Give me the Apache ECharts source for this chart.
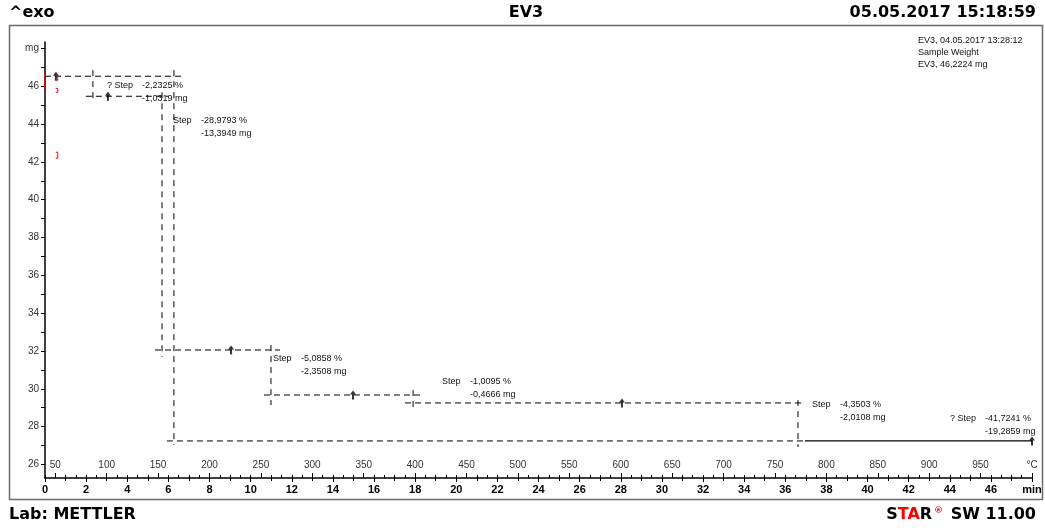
<!DOCTYPE html>
<html>
<head>
<meta charset="utf-8">
<title>EV3</title>
<style>
  html, body { margin: 0; padding: 0; background: #fff; }
  #chart { width: 1045px; height: 528px; }
</style>
<script src="https://cdn.jsdelivr.net/npm/echarts@6/dist/echarts.min.js"></script>
</head>
<body>
<div id="chart"></div>
<script>
// axis ticks
var massTicks = [26, 28, 30, 32, 34, 36, 38, 40, 42, 44, 46, 48];
var massMinor = [26,27,28,29,30,31,32,33,34,35,36,37,38,39,40,41,42,43,44,45,46,47,48];
var tempTicks = [50,100,150,200,250,300,350,400,450,500,550,600,650,700,750,800,850,900,950,1000];

// step evaluation lines: [t start (min), t end (min), mass (mg)]
var levelLines = [
  [0, 6.66, 46.53],
  [1.99, 6.0, 45.47],
  [5.35, 11.43, 32.05],
  [10.65, 18.24, 29.67],
  [17.51, 36.96, 29.25],
  [5.93, 36.96, 27.24]
];
// vertical lines: [t (min), mass top, mass bottom]
var dropLines = [
  [2.33, 46.85, 45.26],
  [5.69, 45.68, 31.68],
  [6.27, 46.85, 27.03],
  [10.99, 32.31, 29.14],
  [17.90, 29.93, 28.88],
  [36.62, 29.40, 26.92]
];
// visible part of the curve
var curveTail = [[36.96, 27.24], [48, 27.24]];
// evaluation points
var stepMarks = [[0.53, 46.58], [3.06, 45.52], [9.05, 32.10], [14.98, 29.72], [28.06, 29.30], [48, 27.29]];
// red limit brackets: [t, mass top, mass bottom, cap direction]
var limitMarks = [
  [-0.04, 46.58, 45.84, 1],
  [0.62, 46.58, 46.32, -1],
  [0.62, 45.89, 45.68, -1],
  [0.62, 42.51, 42.19, -1]
];
// step results
var stepNames = ['? Step', 'Step', 'Step', 'Step', 'Step', '? Step'];
var stepPercent = ['-2,2325 %', '-28,9793 %', '-5,0858 %', '-1,0095 %', '-4,3503 %', '-41,7241 %'];
var stepMass = ['-1,0319 mg', '-13,3949 mg', '-2,3508 mg', '-0,4666 mg', '-2,0108 mg', '-19,2859 mg'];
var infoLines = ['EV3, 04.05.2017 13:28:12', 'Sample Weight', 'EV3, 46,2224 mg'];

var series = [];
levelLines.forEach(function (s) {
  series.push({
    type: 'line', xAxisIndex: 0, symbol: 'none', silent: true,
    lineStyle: { color: '#000', width: 1, type: [6, 4] },
    data: [[s[0], s[2]], [s[1], s[2]]]
  });
});
dropLines.forEach(function (s) {
  series.push({
    type: 'line', xAxisIndex: 0, symbol: 'none', silent: true,
    lineStyle: { color: '#000', width: 1, type: [6, 5] },
    data: [[s[0], s[1]], [s[0], s[2]]]
  });
});
limitMarks.forEach(function (s) {
  var c = s[0] + 0.1 * s[3];
  series.push({
    type: 'line', xAxisIndex: 0, symbol: 'none', silent: true, clip: false, z: 5,
    lineStyle: { color: '#ff0000', width: 1 },
    data: [[c, s[1]], [s[0], s[1]], [s[0], s[2]], [c, s[2]]]
  });
});
series.push({
  type: 'line', xAxisIndex: 0, symbol: 'none', silent: true,
  lineStyle: { color: '#000', width: 1.3 },
  data: curveTail
});
series.push({
  type: 'scatter', xAxisIndex: 0, silent: true,
  symbol: 'path://M0,0 L3,4 L1,4 L1,9 L-1,9 L-1,4 L-3,4 Z',
  symbolSize: [6, 9], symbolOffset: [0, 1],
  itemStyle: { color: '#000' },
  data: stepMarks
});

var smallFont = '9px "Liberation Sans", Arial, sans-serif';
var bigFont = 'bold 16px "DejaVu Sans", sans-serif';
// where each result block sits (px)
var textPos = [[107, 86], [173, 121], [273, 359], [442, 382], [812, 405], [950, 419]];
var graphics = [
  { type: 'rect', shape: { x: 9.5, y: 25.5, width: 1033, height: 474 }, style: { fill: 'none', stroke: '#6a6a6a', lineWidth: 1.5 } },
  { type: 'text', x: 9, y: 13, style: { text: '^exo', font: bigFont, fill: '#000', textVerticalAlign: 'middle' } },
  { type: 'text', x: 526, y: 13, style: { text: 'EV3', font: bigFont, fill: '#000', textAlign: 'center', textVerticalAlign: 'middle' } },
  { type: 'text', x: 1036, y: 13, style: { text: '05.05.2017 15:18:59', font: bigFont, fill: '#000', textAlign: 'right', textVerticalAlign: 'middle' } },
  { type: 'text', x: 9, y: 515, style: { text: 'Lab: METTLER', font: bigFont, fill: '#000', textVerticalAlign: 'middle' } },
  {
    type: 'text', x: 1036, y: 515,
    style: {
      text: '{k|S}{r|TA}{k|R}{s|®}{k| SW 11.00}',
      textAlign: 'right', textVerticalAlign: 'middle',
      rich: {
        k: { font: bigFont, fill: '#000' },
        r: { font: bigFont, fill: '#ff0000' },
        s: { font: 'bold 9px "DejaVu Sans", sans-serif', fill: '#ff0000', verticalAlign: 'top', padding: [0, 2, 8, 2] }
      }
    }
  }
];
infoLines.forEach(function (t, i) {
  graphics.push({ type: 'text', x: 918, y: 41 + i * 12, style: { text: t, font: smallFont, fill: '#111', textVerticalAlign: 'middle' } });
});
textPos.forEach(function (p, i) {
  var gap = stepNames[i].length > 4 ? 35 : 28;
  graphics.push({ type: 'text', x: p[0], y: p[1], style: { text: stepNames[i], font: smallFont, fill: '#111', textVerticalAlign: 'middle' } });
  graphics.push({ type: 'text', x: p[0] + gap, y: p[1], style: { text: stepPercent[i], font: smallFont, fill: '#111', textVerticalAlign: 'middle' } });
  graphics.push({ type: 'text', x: p[0] + gap, y: p[1] + 12.5, style: { text: stepMass[i], font: smallFont, fill: '#111', textVerticalAlign: 'middle' } });
});

var myChart = echarts.init(document.getElementById('chart'));
myChart.setOption({
  animation: false,
  textStyle: { fontFamily: '"Liberation Sans", Arial, sans-serif' },
  grid: { left: 45, right: 13, top: 42, bottom: 50, outerBoundsMode: 'none' },
  xAxis: [
    {
      type: 'value', min: 0, max: 48, interval: 2, position: 'bottom',
      axisLine: { lineStyle: { color: '#000', width: 1.5 } },
      axisTick: { length: 4, lineStyle: { color: '#000' } },
      minorTick: { show: true, splitNumber: 2, length: 3, lineStyle: { color: '#000' } },
      splitLine: { show: false },
      axisLabel: {
        color: '#000', fontWeight: 'bold', fontSize: 11, margin: 6,
        formatter: function (v) { return v === 48 ? 'min' : v; }
      }
    },
    {
      type: 'value', min: 40, max: 1000, position: 'bottom',
      axisLine: { show: false },
      axisTick: { show: true, inside: true, length: 5, customValues: tempTicks, lineStyle: { color: '#000' } },
      splitLine: { show: false },
      axisLabel: {
        inside: true, customValues: tempTicks, margin: 8, fontSize: 10, color: '#333',
        formatter: function (v) { return v === 1000 ? '°C' : v; }
      }
    },
    {
      type: 'value', min: 40, max: 1000, interval: 10, position: 'bottom',
      axisLine: { show: false },
      axisTick: { show: true, inside: true, length: 3, lineStyle: { color: '#000' } },
      splitLine: { show: false },
      axisLabel: { show: false }
    }
  ],
  yAxis: {
    type: 'value', min: 25.28, max: 48.34,
    axisLine: { show: true, lineStyle: { color: '#000', width: 1.5 } },
    axisTick: { show: true, length: 4, customValues: massMinor, lineStyle: { color: '#000' } },
    splitLine: { show: false },
    axisLabel: {
      customValues: massTicks, margin: 6, fontSize: 10, color: '#333',
      formatter: function (v) { return v === 48 ? 'mg' : v; }
    }
  },
  graphic: graphics,
  series: series
});
</script>
</body>
</html>
